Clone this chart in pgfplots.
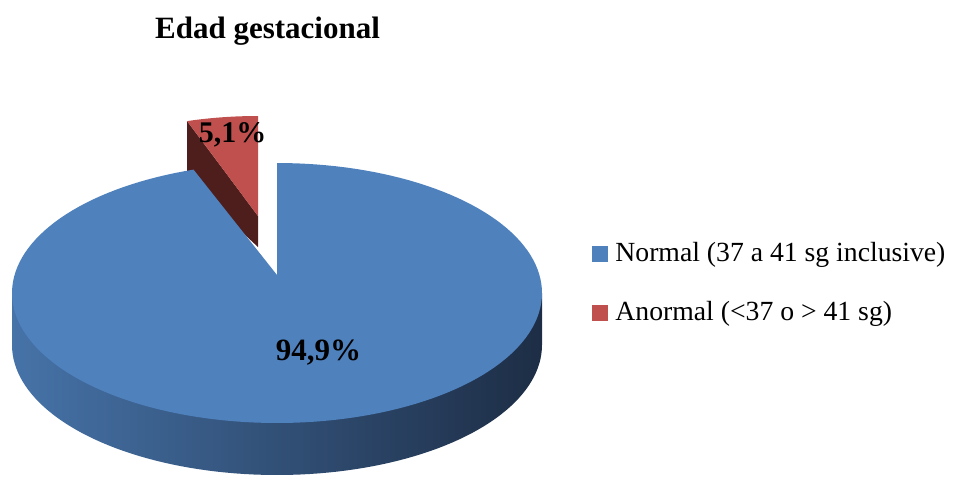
\documentclass[border=0pt]{standalone}
\usepackage{fontspec}
\setmainfont{Liberation Serif}
\usepackage{pgfplots}
\pgfplotsset{compat=1.18}
\definecolor{nblue}{HTML}{4F81BD}
\definecolor{nred}{HTML}{C0504D}
\definecolor{dred}{HTML}{4E1E1D}
\definecolor{sideL}{HTML}{4673A8}
\definecolor{sideR}{HTML}{1D2D45}
\pgfplotsset{legend image code/.code={\fill[#1, draw=none] (0pt,-4pt) rectangle (8pt,4pt);}}
\begin{document}
\begin{tikzpicture}
\def\vA{94.9}\def\vB{5.1}
\pgfmathsetmacro\aM{90+3.6*\vB}
% blue slice geometry (image pixel units, y downward)
\def\bcx{277}\def\bcy{293}\def\brx{265}\def\bry{130}\def\bd{52}
\def\bax{277}\def\bay{275}
\pgfmathsetmacro\bxl{\bcx-\brx}
\pgfmathsetmacro\bxr{\bcx+\brx}
% red slice geometry (exploded)
\def\rcx{258}\def\rcy{216}\def\rrx{225}\def\rry{100}\def\rd{31}
\pgfmathsetmacro\rpx{\rcx+\rrx*cos(\aM)}
\pgfmathsetmacro\rpy{\rcy-\rry*sin(\aM)}
\pgfmathsetmacro\rpyd{\rpy+60}
\pgfmathsetmacro\rcyd{\rcy+\rd}
\begin{axis}[scale only axis, width=481.5pt, height=238.5pt,
  xmin=0, xmax=963, ymin=0, ymax=477, y dir=reverse,
  axis lines=none, clip=false,
  legend style={at={(axis cs:592,239)}, anchor=north west, draw=none, fill=none,
    font=\fontsize{13.85}{16}\selectfont, row sep=15.5pt, column sep=2pt, inner sep=0pt,
    nodes={inner sep=1.5pt}},
  legend cell align=left]
\addlegendimage{fill=nblue}
\addlegendentry{Normal (37 a 41 sg inclusive)}
\addlegendimage{fill=nred}
\addlegendentry{Anormal (<37 o > 41 sg)}
\addplot[draw=none, forget plot] coordinates {(0,0) (963,477)};
% red slice: radial side face
\addplot[fill=dred, draw=none, forget plot] coordinates {(\rpx,\rpy) (\rcx,\rcy) (\rcx,\rcyd) (\rpx,\rpyd)} -- cycle;
% red slice: top face
\addplot[fill=nred, draw=none, domain=90:\aM, samples=30, variable=\t, forget plot]
  ({\rcx+\rrx*cos(\t)},{\rcy-\rry*sin(\t)}) -- (axis cs:\rcx,\rcy) -- cycle;
% blue slice: front wall
\addplot[left color=sideL, right color=sideR, draw=none, domain=180:360, samples=90, variable=\t, forget plot]
  ({\bcx+\brx*cos(\t)},{\bcy+\bd-\bry*sin(\t)}) -- (axis cs:\bxr,\bcy) -- (axis cs:\bxl,\bcy) -- cycle;
% blue slice: top face
\addplot[fill=nblue, draw=none, domain=\aM:450, samples=160, variable=\t, forget plot]
  ({\bcx+\brx*cos(\t)},{\bcy-\bry*sin(\t)}) -- (axis cs:\bax,\bay) -- cycle;
\node[font=\bfseries\fontsize{15.5}{17}\selectfont, anchor=base] at (axis cs:267.5,38) {Edad gestacional};
\node[font=\bfseries\fontsize{15.5}{17}\selectfont, anchor=base] at (axis cs:318.5,360) {94,9\%};
\node[font=\bfseries\fontsize{15}{17}\selectfont, anchor=base] at (axis cs:232.5,142) {5,1\%};
\end{axis}
\end{tikzpicture}
\end{document}
